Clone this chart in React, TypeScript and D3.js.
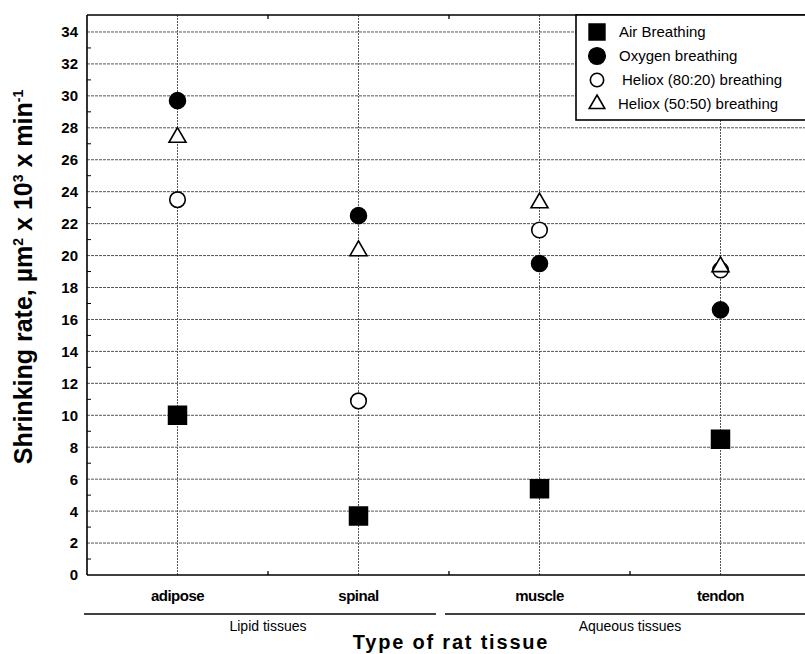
import React from "react";
import * as d3 from "d3";

// categories and series
const tissues = ["adipose", "spinal", "muscle", "tendon"];
const airBreathing = [10.0, 3.7, 5.4, 8.5];
const oxygenBreathing = [29.7, 22.5, 19.5, 16.6];
const heliox8020 = [23.5, 10.9, 21.6, 19.1];
const heliox5050 = [27.4, 20.3, 23.3, 19.3];
const yTicks = [0, 2, 4, 6, 8, 10, 12, 14, 16, 18, 20, 22, 24, 26, 28, 30, 32, 34];
const yMinor = [1, 3, 5, 7, 9, 11, 13, 15, 17, 19, 21, 23, 25, 27, 29, 31, 33];
const groups = [
  { label: "Lipid tissues", from: 0, to: 1 },
  { label: "Aqueous tissues", from: 2, to: 3 },
];

const W = 805, H = 654;
const left = 87, top = 15, bottom = 575, right = 811;
const font = "'Liberation Sans', Arial, Helvetica, sans-serif";

const series = [
  { name: "Air Breathing", values: airBreathing, type: d3.symbolSquare, size: 320, legendSize: 250, fill: "#000" },
  { name: "Oxygen breathing", values: oxygenBreathing, type: d3.symbolCircle, size: 200, legendSize: 215, fill: "#000" },
  { name: "Heliox (80:20) breathing", values: heliox8020, type: d3.symbolCircle, size: 190, legendSize: 140, fill: "#fff" },
  { name: "Heliox (50:50) breathing", values: heliox5050, type: d3.symbolTriangle, size: 125, legendSize: 105, fill: "#fff" },
];

export default function App() {
  const x = d3.scaleBand().domain(tissues).range([left, right]).paddingInner(0).paddingOuter(0);
  const y = d3.scaleLinear().domain([0, 35]).range([bottom, top + 1]);
  const cx = (t: string) => (x(t) as number) + x.bandwidth() / 2;
  const boundaries = tissues.slice(1).map((t) => x(t) as number);

  return (
    <svg width={W} height={H} style={{ position: "absolute", left: 0, top: 0, background: "#fff" }} fontFamily={font}>
      {/* horizontal grid */}
      {yTicks.filter((v) => v > 0).map((v) => (
        <line key={"h" + v} x1={left} x2={W} y1={y(v)} y2={y(v)} stroke="#555" strokeWidth={1} strokeDasharray="3 1" />
      ))}
      {/* vertical grid at categories */}
      {tissues.map((t) => (
        <line key={"v" + t} x1={cx(t)} x2={cx(t)} y1={top} y2={bottom} stroke="#555" strokeWidth={1} strokeDasharray="2 1" />
      ))}
      {/* minor ticks */}
      {yMinor.map((v) => (
        <line key={"m" + v} x1={left} x2={left + 4} y1={y(v)} y2={y(v)} stroke="#000" strokeWidth={1} />
      ))}
      {boundaries.map((b, i) => (
        <g key={"b" + i}>
          <line x1={b} x2={b} y1={bottom} y2={bottom - 4} stroke="#000" strokeWidth={1.3} />
          <line x1={b} x2={b} y1={top} y2={top + 4} stroke="#000" strokeWidth={1.3} />
        </g>
      ))}
      {/* frame */}
      <line x1={left} x2={W} y1={top} y2={top} stroke="#000" strokeWidth={1.6} />
      <line x1={left} x2={W} y1={bottom} y2={bottom} stroke="#000" strokeWidth={1.6} />
      <line x1={left} x2={left} y1={top} y2={bottom} stroke="#000" strokeWidth={1.6} />

      {/* y tick labels */}
      {yTicks.map((v) => (
        <text key={"yl" + v} x={78} y={y(v)} dy="0.36em" textAnchor="end" fontSize={15} fontWeight="bold">{v}</text>
      ))}
      {/* category labels */}
      {tissues.map((t) => (
        <text key={"xl" + t} x={cx(t)} y={601} textAnchor="middle" fontSize={15} fontWeight="bold" letterSpacing="-0.5">{t}</text>
      ))}
      {/* group brackets */}
      {groups.map((g, i) => {
        const x0 = i === 0 ? 84 : (x(tissues[g.from]) as number) - 4;
        const x1 = i === 0 ? (x(tissues[g.to]) as number) + x.bandwidth() - 13 : W;
        const mid = (cx(tissues[g.from]) + cx(tissues[g.to])) / 2;
        return (
          <g key={g.label}>
            <line x1={x0} x2={x1} y1={614} y2={614} stroke="#000" strokeWidth={1.5} />
            <text x={mid} y={631} textAnchor="middle" fontSize={14}>{g.label}</text>
          </g>
        );
      })}
      <text x={451} y={649} textAnchor="middle" fontSize={20} fontWeight="bold" letterSpacing="1.8">Type of rat tissue</text>
      <text transform={`translate(32,${277}) rotate(-90)`} textAnchor="middle" fontSize={25} fontWeight="bold">
        Shrinking rate, µm<tspan dy={-9} fontSize={14}>2</tspan>
        <tspan dy={9}> x 10</tspan><tspan dy={-9} fontSize={14}>3</tspan>
        <tspan dy={9}> x min</tspan><tspan dy={-9} fontSize={14}>-1</tspan>
      </text>

      {/* markers */}
      {series.map((s) => (
        <g key={s.name}>
          {s.values.map((v, i) => (
            <path key={i} d={d3.symbol().type(s.type).size(s.size)() as string}
              transform={`translate(${cx(tissues[i])},${y(v)})`} fill={s.fill} stroke="#000" strokeWidth={1.6} />
          ))}
        </g>
      ))}

      {/* legend */}
      <rect x={576} y={top} width={W - 576 + 5} height={105} fill="#fff" stroke="#000" strokeWidth={1.6} />
      {series.map((s, i) => (
        <g key={"lg" + s.name} transform={`translate(0,${32 + i * 24})`}>
          <path d={d3.symbol().type(s.type).size(s.legendSize)() as string} transform="translate(597,0)"
            fill={s.fill} stroke="#000" strokeWidth={1.6} />
          <text x={i === 2 ? 622 : i === 3 ? 618 : 619} y={0} dy="0.36em" fontSize={15}>{s.name}</text>
        </g>
      ))}
    </svg>
  );
}
